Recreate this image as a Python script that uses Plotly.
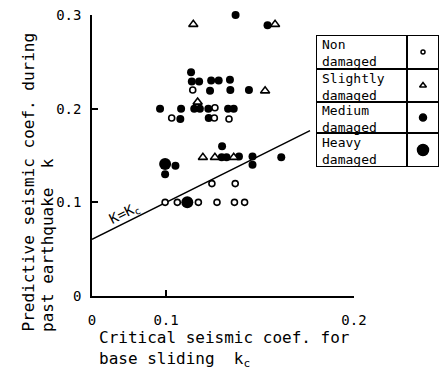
import plotly.graph_objects as go

# ---------------- data ----------------
kc_non = [0.1142, 0.1260, 0.1030, 0.1257, 0.1335, 0.1244, 0.1368,
          0.0995, 0.1060, 0.1172, 0.1271, 0.1364, 0.1418]
k_non = [0.220, 0.201, 0.190, 0.190, 0.189, 0.120, 0.120,
         0.100, 0.100, 0.100, 0.100, 0.100, 0.100]

kc_slight = [0.1145, 0.1580, 0.1527, 0.1168, 0.1196, 0.1260, 0.1360]
k_slight = [0.290, 0.290, 0.219, 0.207, 0.148, 0.148, 0.148]

kc_medium = [0.1370, 0.1540, 0.1133, 0.1137, 0.1176, 0.1240, 0.1280, 0.1340,
             0.1234, 0.1342, 0.1441, 0.0968, 0.1080, 0.1150, 0.1180, 0.1225,
             0.1330, 0.1360, 0.1076, 0.1227, 0.1298, 0.1296, 0.1322, 0.1388,
             0.1460, 0.1460, 0.1613, 0.1050, 0.0995]
k_medium = [0.300, 0.289, 0.239, 0.229, 0.229, 0.230, 0.230, 0.231,
            0.219, 0.220, 0.220, 0.200, 0.200, 0.200, 0.200, 0.200,
            0.200, 0.200, 0.189, 0.190, 0.160, 0.148, 0.148, 0.149,
            0.149, 0.140, 0.148, 0.139, 0.130]

kc_heavy = [0.0995, 0.1113]
k_heavy = [0.141, 0.100]

line_kc = [0.0606, 0.1766]          # k = kc
line_k = list(line_kc)

x_range = [0.0606, 0.2]
y_range = [0, 0.3]
x_tickvals = [0.0606, 0.1, 0.2]
x_ticktext = ["0", "0.1", "0.2"]
y_tickvals = [0, 0.1, 0.2, 0.3]
y_ticktext = ["0", "0.1", "0.2", "0.3"]

legend_lines = [["Non", "damaged"], ["Slightly", "damaged"],
                ["Medium", "damaged"], ["Heavy", "damaged"]]

# ---------------- layout helpers ----------------
W, H = 444, 372
ML, MR, MT, MB = 92, 0, 0, 76
PW, PH = W - ML - MR, H - MT - MB


def px(xp):
    return (xp - ML) / PW


def py(yp):
    return (H - MB - yp) / PH


FONT = "DejaVu Sans Mono"

fig = go.Figure()

fig.add_trace(go.Scatter(x=line_kc, y=line_k, mode="lines",
                         line=dict(color="black", width=1.5),
                         hoverinfo="skip", showlegend=False, cliponaxis=False))

fig.add_trace(go.Scatter(x=kc_medium, y=k_medium, mode="markers",
                         marker=dict(symbol="circle", size=8, color="black"),
                         showlegend=False, cliponaxis=False))
fig.add_trace(go.Scatter(x=kc_heavy, y=k_heavy, mode="markers",
                         marker=dict(symbol="circle", size=12, color="black"),
                         showlegend=False, cliponaxis=False))
fig.add_trace(go.Scatter(x=kc_non, y=k_non, mode="markers",
                         marker=dict(symbol="circle", size=6, color="white",
                                     line=dict(color="black", width=1.6)),
                         showlegend=False, cliponaxis=False))
fig.add_trace(go.Scatter(x=kc_slight, y=k_slight, mode="markers",
                         marker=dict(symbol="triangle-up", size=8, color="white",
                                     line=dict(color="black", width=1.6)),
                         showlegend=False, cliponaxis=False))

# legend table on its own small axes
leg_x0, leg_x1, leg_y0, leg_y1 = 316, 439, 35, 167
row_tops = [35, 69, 102, 133]
row_cy = [52, 85.5, 117.5, 150]
div_x = 407


def lx(xp):
    return (xp - leg_x0) / (leg_x1 - leg_x0)


def ly(yp):
    return (leg_y1 - yp) / (leg_y1 - leg_y0)


legend_symbols = ["circle", "triangle-up", "circle", "circle"]
legend_sizes = [4, 6, 7, 11]
legend_fill = ["white", "white", "black", "black"]
for sym, sz, fc, cy in zip(legend_symbols, legend_sizes, legend_fill, row_cy):
    fig.add_trace(go.Scatter(x=[lx((div_x + leg_x1) / 2)], y=[ly(cy)],
                             xaxis="x2", yaxis="y2", mode="markers",
                             marker=dict(symbol=sym, size=sz, color=fc,
                                         line=dict(color="black", width=1.5)),
                             showlegend=False, hoverinfo="skip"))

shapes = [
    dict(type="rect", xref="x2", yref="y2", x0=0, x1=1, y0=0, y1=1,
         line=dict(color="black", width=2), layer="below", fillcolor="white"),
    dict(type="line", xref="x2", yref="y2", x0=lx(div_x), x1=lx(div_x), y0=0, y1=1,
         line=dict(color="black", width=2)),
]
for t in row_tops[1:]:
    shapes.append(dict(type="line", xref="x2", yref="y2", x0=0, x1=1,
                       y0=ly(t), y1=ly(t), line=dict(color="black", width=2)))

annotations = []
for cy, (l1, l2) in zip(row_cy, legend_lines):
    annotations.append(dict(x=px(320), y=py(cy + 1), xref="paper", yref="paper",
                            text=l1 + "<br>" + l2, showarrow=False, xanchor="left",
                            yanchor="middle", align="left",
                            font=dict(family=FONT, size=13, color="black")))

# axis titles
annotations.append(dict(x=px(97), y=py(349), xref="paper", yref="paper",
                        text="Critical seismic coef. for<br>base sliding  k<sub>c</sub>",
                        showarrow=False, xanchor="left", yanchor="middle",
                        align="left",
                        font=dict(family=FONT, size=16, color="black")))
annotations.append(dict(x=px(28), y=py(334), xref="paper", yref="paper",
                        text="Predictive seismic coef. during", showarrow=False,
                        textangle=-90, xanchor="center", yanchor="bottom",
                        font=dict(family=FONT, size=16, color="black")))
annotations.append(dict(x=px(47), y=py(334), xref="paper", yref="paper",
                        text="past earthquake  k", showarrow=False,
                        textangle=-90, xanchor="center", yanchor="bottom",
                        font=dict(family=FONT, size=16, color="black")))
annotations.append(dict(x=px(124), y=py(214), xref="paper", yref="paper",
                        text="K=K<sub>c</sub>", showarrow=False, textangle=-26.5,
                        xanchor="center", yanchor="middle",
                        font=dict(family=FONT, size=14, color="black")))

axis_common = dict(showgrid=False, zeroline=False, showline=True,
                   linecolor="black", linewidth=1.5, ticks="inside",
                   ticklen=6, tickwidth=1.5, tickcolor="black", automargin=False,
                   tickfont=dict(family=FONT, size=14, color="black"))

fig.update_layout(
    width=W, height=H,
    margin=dict(l=ML, r=MR, t=MT, b=MB, autoexpand=False),
    paper_bgcolor="white", plot_bgcolor="white",
    showlegend=False,
    xaxis=dict(range=x_range, domain=[0, px(354)], tickvals=x_tickvals,
               ticktext=x_ticktext, ticklabelstandoff=10, **axis_common),
    yaxis=dict(range=y_range, domain=[0, py(15)], tickvals=y_tickvals,
               ticktext=y_ticktext, ticklabelstandoff=6, **axis_common),
    xaxis2=dict(domain=[px(leg_x0), px(leg_x1)], range=[0, 1], visible=False,
                anchor="y2", fixedrange=True, automargin=False),
    yaxis2=dict(domain=[py(leg_y1), py(leg_y0)], range=[0, 1], visible=False,
                anchor="x2", fixedrange=True, automargin=False),
    shapes=shapes,
    annotations=annotations,
)

fig.write_html("out.html")
